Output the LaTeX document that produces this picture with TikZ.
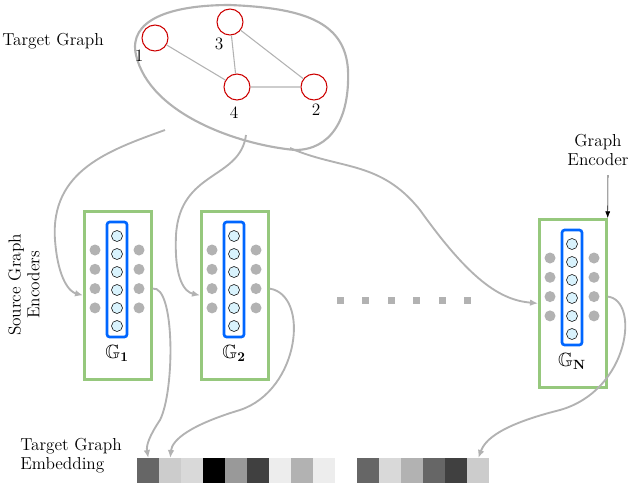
\documentclass[tikz,border=0pt]{standalone}
\usepackage{amssymb}
\begin{document}
\begin{tikzpicture}[x=0.75pt,y=-0.75pt,
  gn/.style={circle,draw=red!80!black,thick,minimum size=26*0.75pt,inner sep=0pt},
  ge/.style={draw=gray!60,thick},
  conn/.style={draw=gray!60,line width=1.4pt,-{Latex[length=6pt,width=5pt]}},
  green/.style={draw={rgb,255:red,150;green,200;blue,125},line width=2pt,fill=white},
  blue/.style={draw=blue!60!cyan,line width=2pt,rounded corners=2pt},
  unit/.style={circle,draw=black,fill=cyan!15,minimum size=11*0.75pt,inner sep=0pt},
  dot/.style={circle,fill=gray!60,minimum size=11*0.75pt,inner sep=0pt},
  lbl/.style={font=\fontsize{13}{14}\selectfont}]
\usetikzlibrary{arrows.meta}
\useasboundingbox (0,0) rectangle (640,483);
% blob
\draw[gray!60,line width=1.6pt] (136,55) .. controls (128,20) and (170,5) .. (230,5)
  .. controls (300,8) and (345,20) .. (348,70) .. controls (350,120) and (330,150) .. (295,150)
  .. controls (240,145) and (150,115) .. (136,55) -- cycle;
\node[gn] (n1) at (155,38) {};
\node[gn] (n3) at (230,22) {};
\node[gn] (n4) at (237,87) {};
\node[gn] (n2) at (314,87) {};
\draw[ge] (n1)--(n4) (n3)--(n4) (n3)--(n2) (n4)--(n2);
\node[lbl] (l1) at (139,56) {1};
\node[lbl] (l3) at (219,44) {3};
\node[lbl] (l4) at (234,113) {4};
\node[lbl] (l2) at (316,110) {2};
\node[lbl,anchor=west,inner sep=0pt] (tg) at (2,41) {Target Graph};
% encoders
\foreach \n/\xa/\ya/\lab in {g1/83/210/1,g2/200/210/2,gN/538/218/N}{
  \node[green,minimum width=67*0.75pt,minimum height=168*0.75pt,anchor=north west,inner sep=0pt] (\n) at (\xa,\ya) {};
  \draw[blue] (\xa+24,\ya+12) rectangle (\xa+44,\ya+127);
  \foreach \k in {0,...,5} \node[unit] (\n u\k) at (\xa+34,\ya+26+\k*18) {};
  \foreach \k in {0,...,3} {\node[dot] (\n a\k) at (\xa+12,\ya+40+\k*19.3) {};
                            \node[dot] (\n b\k) at (\xa+56,\ya+40+\k*19.3) {};}
  \node[font=\Large] (\n lab) at (\xa+34,\ya+143) {$\mathbb{G}_{\mathbf{\lab}}$};
}
\foreach \k in {0,...,5} \node[fill=gray!60,minimum size=7*0.75pt,inner sep=0pt] (sq\k) at (340+\k*25.5,300) {};
% connectors
\draw[conn] (165,130) .. controls (110,150) and (50,170) .. (55,240) .. controls (58,280) and (70,292) .. (g1.west);
\draw[conn] (246,135) .. controls (240,180) and (180,170) .. (176,235) .. controls (174,280) and (185,292) .. (g2.west);
\draw[conn] (290,148) .. controls (340,170) and (380,160) .. (420,210) .. controls (470,280) and (500,300) .. (gN.west);
% embedding
\foreach \c [count=\i from 0] in {60,20,15,100,40,75,7,30,7}
  \node[fill=black!\c,minimum width=22*0.75pt,minimum height=25*0.75pt,inner sep=0pt,anchor=north west] (e\i) at (137+\i*22,458) {};
\foreach \c [count=\i from 0] in {60,15,30,60,75,20}
  \node[fill=black!\c,minimum width=22*0.75pt,minimum height=25*0.75pt,inner sep=0pt,anchor=north west] (f\i) at (357+\i*22,458) {};
\draw[conn] (g1.east|-g1b2) .. controls (175,285) and (175,390) .. (160,420) .. controls (150,435) and (146,445) .. (e0.north);
\draw[conn] (g2.east|-g2b2) .. controls (310,295) and (300,390) .. (240,410) .. controls (190,425) and (172,440) .. (e1.north);
\draw[conn] (gN.east|-gNb2) .. controls (640,300) and (630,390) .. (560,410) .. controls (500,425) and (485,440) .. (f5.north);
\node[lbl,align=left,anchor=west,inner sep=0pt] (emb) at (20,456) {Target Graph\\Embedding};
\node[lbl,align=center,rotate=90] (sge) at (24,285) {Source Graph\\Encoders};
\node[lbl,align=center] (genc) at (598,150) {Graph\\Encoder};
\draw[-{Latex[length=5pt]},thin] (608,175) -- (gN.north east);
\end{tikzpicture}
\end{document}
